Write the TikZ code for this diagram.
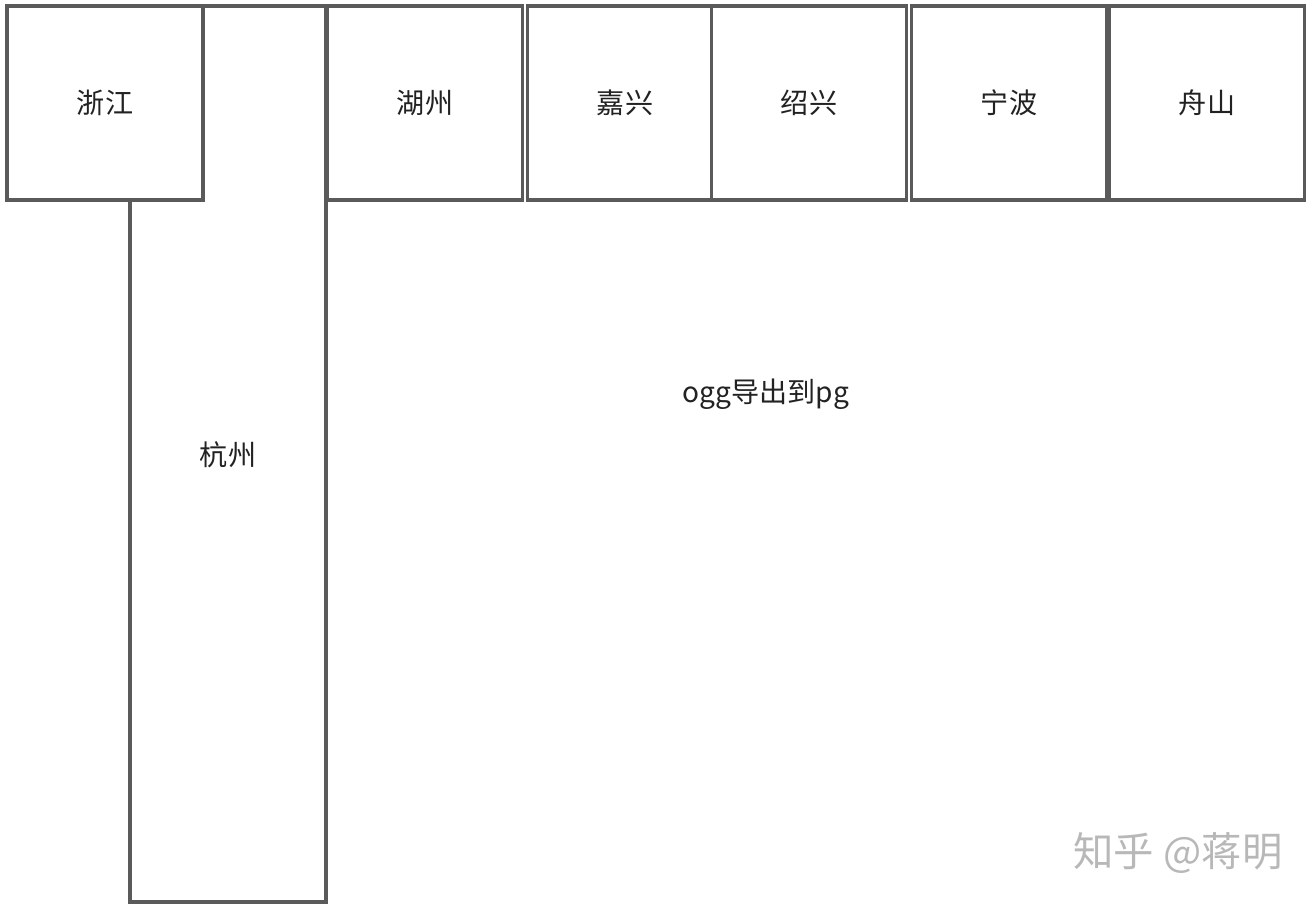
\documentclass[tikz,border=0pt]{standalone}
\usepackage{fontspec}
\setmainfont{Noto Sans CJK SC}

\definecolor{edge}{HTML}{5A5A5A}
\definecolor{ink}{HTML}{222222}

\begin{document}
\begin{tikzpicture}[x=0.02cm, y=-0.02cm, line width=2pt,
    cell/.style={draw=edge, fill=white, rectangle, inner sep=0pt,
      text=ink, font=\fontsize{16}{18}\selectfont},
    topcell/.style={cell, minimum width=3.9cm, minimum height=3.88cm}]
  % page size of the reference
  \useasboundingbox (0,0) rectangle (1316,908);

  % --- Left column ---
  \node[cell, minimum width=3.92cm, minimum height=17.92cm] (hangzhou) at (228,454) {};
  \node[text=ink, font=\fontsize{16}{18}\selectfont] (hzlabel) at (228,455) {杭州};
  \node[topcell, minimum width=3.92cm] (zhejiang) at (105,103) {浙江};

  % --- Top row ---
  \node[topcell] (huzhou)   at (425,103) {湖州};
  \node[topcell] (jiaxing)  at (625,103) {嘉兴};
  \node[topcell] (shaoxing) at (809,103) {绍兴};
  \node[topcell] (ningbo)   at (1009,103) {宁波};
  \node[topcell] (zhoushan) at (1207,103) {舟山};

  % --- Export area ---
  \node[text=ink, font=\fontsize{16}{18}\selectfont] (export) at (766,394) {ogg导出到pg};

  % watermark
  \node[text=black!28, font=\fontsize{23}{25}\selectfont] (mark) at (1178,853) {知乎 @蒋明};
\end{tikzpicture}
\end{document}
